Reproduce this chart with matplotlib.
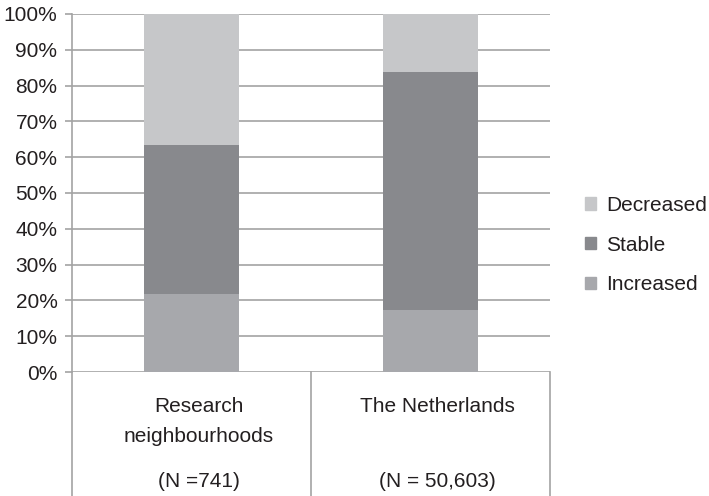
import matplotlib.pyplot as plt
from matplotlib.patches import Patch
import matplotlib.transforms as mtransforms

plt.rcParams['font.family'] = ['Liberation Sans', 'DejaVu Sans']

groups = ['Research\nneighbourhoods', 'The Netherlands']
sizes = ['(N =741)', '(N = 50,603)']
increased = [21.7, 17.2]
stable = [41.8, 66.7]
decreased = [36.5, 16.1]

c_inc = '#a7a8ac'
c_sta = '#88898d'
c_dec = '#c6c7c9'
grid_c = '#a3a3a3'
txt_c = '#231f20'
fs = 15

fig = plt.figure(figsize=(7.09, 4.96), dpi=100)
ax = fig.add_axes([0.1016, 0.25, 0.674, 0.722])

x = range(len(groups))
w = 0.4
ax.bar(x, increased, w, color=c_inc, zorder=3)
ax.bar(x, stable, w, bottom=increased, color=c_sta, zorder=3)
bot2 = [a + b for a, b in zip(increased, stable)]
ax.bar(x, decreased, w, bottom=bot2, color=c_dec, zorder=3)

ax.set_xlim(-0.5, 1.5)
ax.set_ylim(0, 100)
ax.set_yticks(range(0, 101, 10))
ax.set_yticklabels(['{}%'.format(v) for v in range(0, 101, 10)])
ax.yaxis.grid(True, color=grid_c, linewidth=1.2, zorder=0)
ax.tick_params(axis='y', length=5, width=1.2, color=grid_c, labelsize=fs,
               labelcolor=txt_c, pad=5.5)
ax.set_xticks([])
for s in ['top', 'right', 'bottom']:
    ax.spines[s].set_visible(False)
ax.spines['left'].set_color(grid_c)
ax.spines['left'].set_linewidth(1.2)

# category boxes below the plot area
trans = mtransforms.blended_transform_factory(ax.transData, ax.transAxes)
ybot = -0.25 / 0.722
for xv in [-0.5, 0.5, 1.5]:
    ax.plot([xv, xv], [0, ybot], color=grid_c, lw=1.2, transform=trans, clip_on=False)

line_y = [-0.095, -0.179]
for i, (g, n) in enumerate(zip(groups, sizes)):
    for k, part in enumerate(g.split('\n')):
        ax.text(i + 0.03, line_y[k], part, transform=trans, ha='center',
                va='center', fontsize=fs, color=txt_c)
    ax.text(i + 0.03, -0.307, n, transform=trans, ha='center', va='center',
            fontsize=fs, color=txt_c)

handles = [Patch(color=c_dec, label='Decreased'),
           Patch(color=c_sta, label='Stable'),
           Patch(color=c_inc, label='Increased')]
fig.legend(handles=handles, loc='center left', bbox_to_anchor=(0.825, 0.506),
           frameon=False, fontsize=fs, handlelength=0.55, handleheight=0.55,
           handletextpad=0.45, labelspacing=1.0, labelcolor=txt_c,
           borderaxespad=0, borderpad=0)

fig.savefig('out.png', dpi=100)
